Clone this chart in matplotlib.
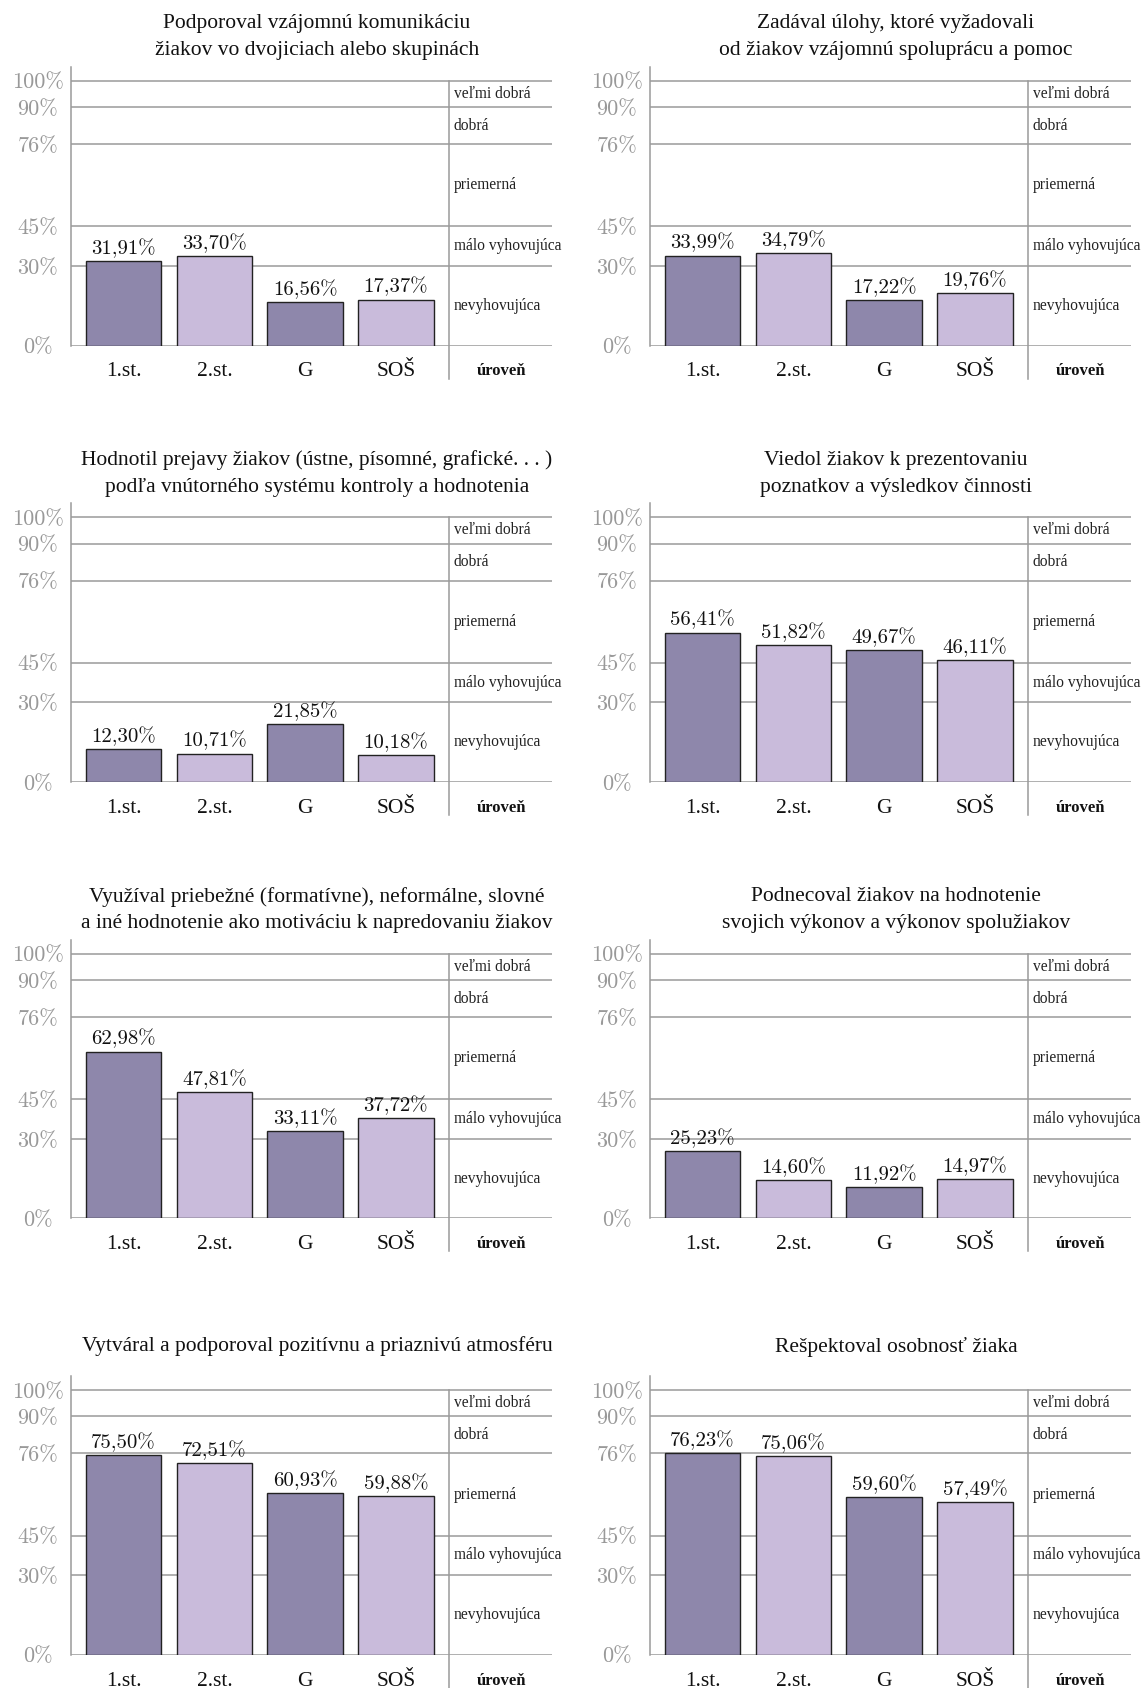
import matplotlib
matplotlib.use("Agg")
import matplotlib.pyplot as plt
from matplotlib.lines import Line2D

categories = ["1.st.", "2.st.", "G", "SOŠ"]
titles = [
    "Podporoval vzájomnú komunikáciu\nžiakov vo dvojiciach alebo skupinách",
    "Zadával úlohy, ktoré vyžadovali\nod žiakov vzájomnú spoluprácu a pomoc",
    "Hodnotil prejavy žiakov (ústne, písomné, grafické. . . )\npodľa vnútorného systému kontroly a hodnotenia",
    "Viedol žiakov k prezentovaniu\npoznatkov a výsledkov činnosti",
    "Využíval priebežné (formatívne), neformálne, slovné\na iné hodnotenie ako motiváciu k napredovaniu žiakov",
    "Podnecoval žiakov na hodnotenie\nsvojich výkonov a výkonov spolužiakov",
    "Vytváral a podporoval pozitívnu a priaznivú atmosféru",
    "Rešpektoval osobnosť žiaka",
]
values_1 = [31.91, 33.70, 16.56, 17.37]
values_2 = [33.99, 34.79, 17.22, 19.76]
values_3 = [12.30, 10.71, 21.85, 10.18]
values_4 = [56.41, 51.82, 49.67, 46.11]
values_5 = [62.98, 47.81, 33.11, 37.72]
values_6 = [25.23, 14.60, 11.92, 14.97]
values_7 = [75.50, 72.51, 60.93, 59.88]
values_8 = [76.23, 75.06, 59.60, 57.49]
all_values = [values_1, values_2, values_3, values_4, values_5, values_6, values_7, values_8]

level_ticks = [0, 30, 45, 76, 90, 100]
level_names = ["nevyhovujúca", "málo vyhovujúca", "priemerná", "dobrá", "veľmi dobrá"]
level_header = "úroveň"

dark = "#8E87AB"
light = "#C9BBDB"
grid_col = "#9a9a9a"
tick_col = "#999999"
txt_font = ["Liberation Serif", "DejaVu Serif"]
num_font = ["cmr10", "Liberation Serif"]

W, H = 1144, 1688
fig = plt.figure(figsize=(W / 100, H / 100), dpi=100)

XMIN, XMAX = -0.58, 4.72
SEP = 3.59
YTOP = 105.3
ax_w_px = 481
ax_h_px = 278.8
col_x = [71, 650]
row0_zero = 345.5
row_step = 436.4

for i, vals in enumerate(all_values):
    r, c = divmod(i, 2)
    zero_y = row0_zero + row_step * r
    left = col_x[c] / W
    bottom = 1 - zero_y / H
    ax = fig.add_axes([left, bottom, ax_w_px / W, ax_h_px / H])
    ax.set_xlim(XMIN, XMAX)
    ax.set_ylim(0, YTOP)

    for lv in level_ticks:
        ax.axhline(lv, color=grid_col, lw=1.1, zorder=0)

    x = list(range(len(categories)))
    cols = [dark, light, dark, light]
    ax.bar(x, vals, width=0.83, color=cols, edgecolor="#222222", linewidth=1.0, zorder=2)
    for xi, v in zip(x, vals):
        ax.annotate(f"{v:.2f}%".replace(".", ","), xy=(xi, v), xytext=(0, 5),
                    textcoords="offset points", ha="center", va="baseline",
                    fontsize=15, family=num_font, color="#111111", zorder=3)

    ax.add_line(Line2D([SEP, SEP], [100, -12.5], color=grid_col, lw=1.1, clip_on=False, zorder=1))

    for j, name in enumerate(level_names):
        ymid = (level_ticks[j] + level_ticks[j + 1]) / 2
        ax.text(SEP + 0.05, ymid, name, ha="left", va="center", fontsize=11.2,
                family=txt_font, color="#222222")

    ax.annotate(level_header, xy=(4.16, 0), xytext=(0, -21.5), textcoords="offset points",
                ha="center", va="baseline", fontsize=12, fontweight="bold",
                family=txt_font, color="#111111", annotation_clip=False)

    ax.set_xticks(x)
    ax.set_xticklabels(categories, family=txt_font, fontsize=15.5, color="#111111")
    for lab in ax.get_xticklabels():
        lab.set_va("baseline")
    ax.tick_params(axis="x", length=0, pad=22.3)

    ax.set_yticks(level_ticks)
    ax.set_yticklabels([f"{t}%" for t in level_ticks], family=num_font, fontsize=16, color=tick_col)
    for lab in ax.get_yticklabels():
        lab.set_ha("center")
    ax.tick_params(axis="y", length=0, pad=24)

    for s in ["top", "right", "bottom"]:
        ax.spines[s].set_visible(False)
    ax.spines["left"].set_color(grid_col)
    ax.spines["left"].set_linewidth(1.1)

    ax.text(2.13, 116.4, titles[i], ha="center", va="center", multialignment="center",
            fontsize=15.5, family=txt_font, color="#111111", linespacing=1.55)

fig.savefig("out.png", dpi=100)
